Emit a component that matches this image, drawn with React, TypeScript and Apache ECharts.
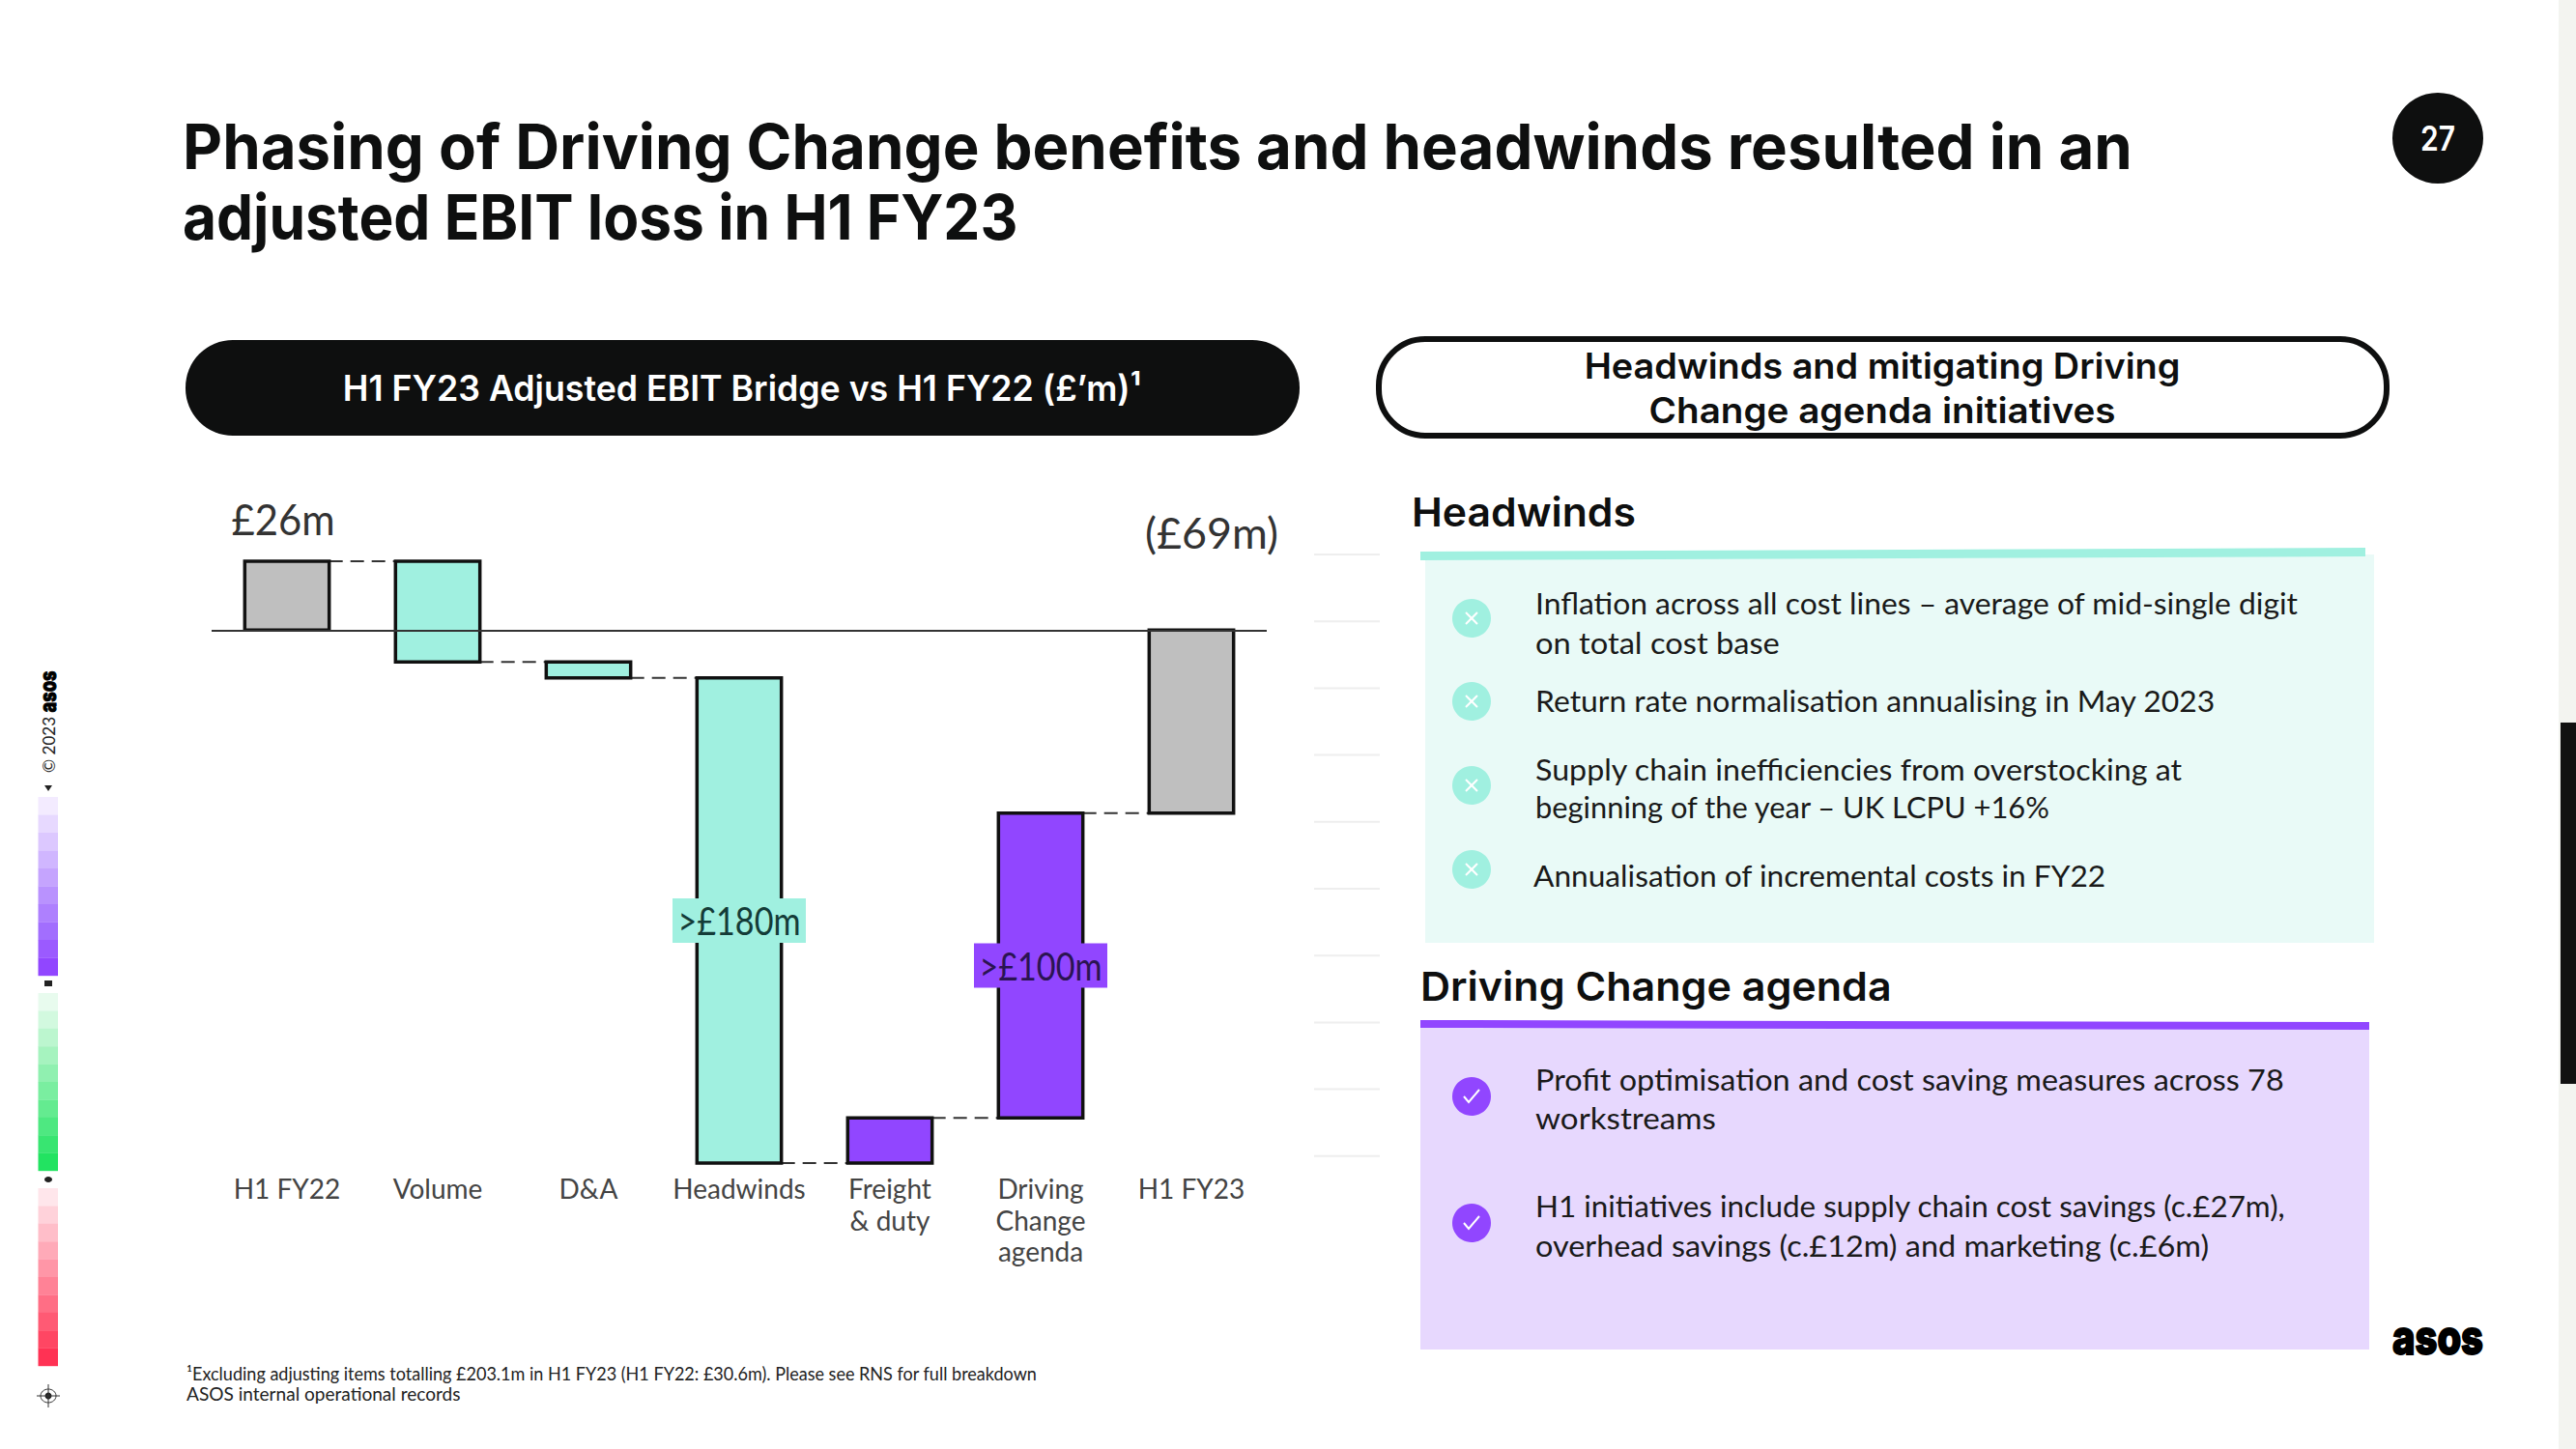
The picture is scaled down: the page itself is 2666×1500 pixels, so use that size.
import React, { useEffect, useRef } from "react";
import * as echarts from "echarts";

const categories = ["H1 FY22", "Volume", "D&A", "Headwinds", "Freight\n& duty", "Driving\nChange\nagenda", "H1 FY23"];
const barLow = [0, -12, -18, -201, -201, -184, -69];
const barHigh = [26, 26, -12, -18, -184, -69, 0];
const barKinds = ["total", "headwind", "headwind", "headwind", "agenda", "agenda", "total"];
const barLabels = ["£26m", "", "", ">£180m", "", ">£100m", "(£69m)"];
const connectorLevels = [26, -12, -18, -201, -184, -69];

const titleLines = ["Phasing of Driving Change benefits and headwinds resulted in an", "adjusted EBIT loss in H1 FY23"];
const headwindLines = [
  "Inflation across all cost lines – average of mid-single digit",
  "on total cost base",
  "Return rate normalisation annualising in May 2023",
  "Supply chain inefficiencies from overstocking at",
  "beginning of the year – UK LCPU +16%",
  "Annualisation of incremental costs in FY22",
];
const agendaLines = [
  "Profit optimisation and cost saving measures across 78",
  "workstreams",
  "H1 initiatives include supply chain cost savings (c.£27m),",
  "overhead savings (c.£12m) and marketing (c.£6m)",
];
const footnotes = [
  "¹Excluding adjusting items totalling £203.1m in H1 FY23 (H1 FY22: £30.6m). Please see RNS for full breakdown",
  "ASOS internal operational records",
];
const purpleSteps = ["#f3ebff", "#e7d9ff", "#dcc8ff", "#d0b6ff", "#c5a4fe", "#b992fe", "#ae80fe", "#a26efe", "#9b5aff", "#9146ff"];
const greenSteps = ["#e8fbee", "#d2f9df", "#bcf6cf", "#a6f3bf", "#90f0b0", "#7aeea0", "#64eb90", "#4ee881", "#38e571", "#22e361"];
const pinkSteps = ["#ffe6eb", "#ffd2da", "#ffbec9", "#ffaab8", "#ff96a7", "#ff8296", "#ff6e85", "#ff5a74", "#ff4663", "#ff3254"];

const INK = "#0e0f0f";
const TEAL = "#a0f0e0";
const PURPLE = "#9146ff";
const GREY = "#bfbfbf";
const kindColor: Record<string, string> = { total: GREY, headwind: TEAL, agenda: PURPLE };

const measure = document.createElement("canvas").getContext("2d")!;
function fitScale(text: string, width: number, size: number, family: string, weight: number) {
  measure.font = `${weight} ${size}px ${family}`;
  return width / measure.measureText(text).width;
}
function txt(text: string, x: number, y: number, width: number, size: number, family: string, weight: number, fill: string, align = "left", rotation = 0, extra: any = {}) {
  return {
    type: "text", x, y, scaleX: fitScale(text, width, size, family, weight), rotation, silent: true,
    style: { text, x: 0, y: 0, fontFamily: family, fontSize: size, fontWeight: weight, fill, align, verticalAlign: "middle", ...extra },
  };
}

function buildGraphics() {
  const g: any[] = [];
  const rect = (x: number, y: number, width: number, height: number, fill: string, r = 0) =>
    g.push({ type: "rect", silent: true, shape: { x, y, width, height, r }, style: { fill } });
  // page edge
  rect(2648, 0, 18, 1500, "#f3f4f0");
  rect(2650, 748, 16, 374, "#111111");
  // title
  g.push(txt(titleLines[0], 189, 151, 2018, 65, "Inter", 700, INK));
  g.push(txt(titleLines[1], 189, 224, 865, 65, "Inter", 700, INK));
  g.push({ type: "circle", silent: true, shape: { cx: 2523, cy: 143, r: 47 }, style: { fill: INK } });
  g.push(txt("27", 2523, 143, 36, 35, "Inter", 600, "#ffffff", "center"));
  // pills
  rect(192, 352, 1153, 99, INK, 49);
  g.push(txt("H1 FY23 Adjusted EBIT Bridge vs H1 FY22 (£’m)¹", 768, 402, 827, 37, "Inter", 600, "#ffffff", "center"));
  g.push({ type: "rect", silent: true, shape: { x: 1427, y: 351, width: 1043, height: 100, r: 48 }, style: { fill: "#ffffff", stroke: INK, lineWidth: 6 } });
  g.push(txt("Headwinds and mitigating Driving", 1948, 379, 617, 37, "Inter", 600, INK, "center"));
  g.push(txt("Change agenda initiatives", 1948, 424, 483, 37, "Inter", 600, INK, "center"));
  // faint ticks beside the chart
  for (let i = 0; i < 10; i++) {
    const y = 574 + i * 69.2;
    g.push({ type: "line", silent: true, shape: { x1: 1360, y1: y, x2: 1428, y2: y }, style: { stroke: "#eeeeee", lineWidth: 2 } });
  }
  // headwinds panel
  g.push(txt("Headwinds", 1461, 530, 232, 41, "Inter", 600, INK));
  rect(1475, 574, 982, 402, "#e9faf7");
  g.push({ type: "polygon", silent: true, shape: { points: [[1470, 571], [2448, 567], [2448, 576], [1470, 580]] }, style: { fill: TEAL } });
  [640, 726, 813, 900].forEach((cy) => {
    g.push({ type: "circle", silent: true, shape: { cx: 1523, cy, r: 20 }, style: { fill: TEAL } });
    g.push({ type: "line", silent: true, shape: { x1: 1517, y1: cy - 6, x2: 1529, y2: cy + 6 }, style: { stroke: "#ffffff", lineWidth: 2 } });
    g.push({ type: "line", silent: true, shape: { x1: 1529, y1: cy - 6, x2: 1517, y2: cy + 6 }, style: { stroke: "#ffffff", lineWidth: 2 } });
  });
  const hwY = [624, 665, 725, 796, 835, 906];
  const hwW = [790, 253, 704, 670, 534, 593];
  headwindLines.forEach((t, i) => g.push(txt(t, i === 5 ? 1587 : 1589, hwY[i], hwW[i], 31, "Lato", 400, "#1a1a1a")));
  // agenda panel
  g.push(txt("Driving Change agenda", 1470, 1021, 488, 41, "Inter", 600, INK));
  rect(1470, 1062, 982, 335, "#e7d8fe");
  g.push({ type: "polygon", silent: true, shape: { points: [[1470, 1056], [2452, 1058], [2452, 1066], [1470, 1064]] }, style: { fill: PURPLE } });
  [1135, 1266].forEach((cy) => {
    g.push({ type: "circle", silent: true, shape: { cx: 1523, cy, r: 20 }, style: { fill: PURPLE } });
    g.push({ type: "polyline", silent: true, shape: { points: [[1515, cy], [1520, cy + 6], [1531, cy - 7]] }, style: { stroke: "#ffffff", lineWidth: 2, fill: "none" } });
  });
  const agY = [1117, 1157, 1248, 1289];
  const agW = [775, 187, 777, 697];
  agendaLines.forEach((t, i) => g.push(txt(t, 1589, agY[i], agW[i], 31, "Lato", 400, "#1a1a1a")));
  // footnotes, logo
  g.push(txt(footnotes[0], 193, 1422, 881, 19, "Lato", 400, "#222222"));
  g.push(txt(footnotes[1], 193, 1443, 284, 19, "Lato", 400, "#222222"));
  g.push(txt("asos", 2523, 1384, 94, 50, "Inter", 800, "#000000", "center", 0, { stroke: "#000000", lineWidth: 2 }));
  // left strip
  g.push(txt("asos", 50, 716, 43, 23, "Inter", 800, "#000000", "center", Math.PI / 2, { stroke: "#000000", lineWidth: 1 }));
  g.push(txt("© 2023", 50, 771, 58, 18, "Lato", 400, "#222222", "center", Math.PI / 2));
  g.push({ type: "polygon", silent: true, shape: { points: [[46, 813], [54, 813], [50, 819]] }, style: { fill: "#222222" } });
  purpleSteps.forEach((c, i) => rect(39.5, 825 + i * 18.5, 20.5, 18.7, c));
  rect(46, 1015, 8, 6, "#222222");
  greenSteps.forEach((c, i) => rect(39.5, 1028 + i * 18.4, 20.5, 18.6, c));
  g.push({ type: "ellipse", silent: true, shape: { cx: 50, cy: 1221, rx: 4, ry: 3 }, style: { fill: "#222222" } });
  pinkSteps.forEach((c, i) => rect(39.5, 1230 + i * 18.4, 20.5, 18.6, c));
  g.push({ type: "ellipse", silent: true, shape: { cx: 50, cy: 1445, rx: 8, ry: 7 }, style: { fill: "none", stroke: "#333333", lineWidth: 1 } });
  g.push({ type: "circle", silent: true, shape: { cx: 50, cy: 1445, r: 3.5 }, style: { fill: "#222222" } });
  g.push({ type: "line", silent: true, shape: { x1: 38, y1: 1445, x2: 62, y2: 1445 }, style: { stroke: "#333333", lineWidth: 1 } });
  g.push({ type: "line", silent: true, shape: { x1: 50, y1: 1433, x2: 50, y2: 1457 }, style: { stroke: "#333333", lineWidth: 1 } });
  return g;
}

function labelText(text: string, x: number, y: number, width: number, size: number, fill: string) {
  return {
    type: "text", x, y, scaleX: fitScale(text, width, size, "Lato", 400),
    style: { text, x: 0, y: 0, fontFamily: "Lato", fontSize: size, fontWeight: 400, align: "center", verticalAlign: "middle", fill },
  };
}

function labelChildren(api: any, i: number, low: number, high: number) {
  const label = barLabels[i];
  if (!label) return [];
  const cx = api.coord([i, 0])[0];
  if (label.startsWith(">")) {
    const cy = (api.coord([i, high])[1] + api.coord([i, low])[1]) / 2;
    return [
      { type: "rect", shape: { x: cx - 69, y: cy - 23, width: 138, height: 46 }, style: { fill: kindColor[barKinds[i]] } },
      labelText(label, cx, cy, 127, 40, barKinds[i] === "agenda" ? "#2b1452" : "#143c38"),
    ];
  }
  const top = api.coord([i, high])[1];
  return i === categories.length - 1
    ? [labelText(label, cx + 21, top - 101, 138, 45, "#333333")]
    : [labelText(label, cx - 4, top - 45, 107, 45, "#333333")];
}

export default function App() {
  const ref = useRef<HTMLDivElement>(null);
  useEffect(() => {
    document.body.style.margin = "0";
    document.body.style.background = "#ffffff";
    const chart = echarts.init(ref.current!, undefined, { renderer: "svg" });
    chart.setOption({
      animation: false,
      backgroundColor: "#ffffff",
      grid: { left: 219, top: 581, width: 1092, height: 623 },
      xAxis: {
        type: "category", data: categories,
        axisLine: { show: false, onZero: false }, axisTick: { show: false },
        axisLabel: { interval: 0, margin: 10, fontFamily: "Lato", fontSize: 28, lineHeight: 32.5, color: "#444444", verticalAlign: "top" },
      },
      yAxis: { type: "value", min: -201, max: 26, show: false, splitLine: { show: false } },
      series: [
        {
          type: "line", data: [], z: 1, silent: true, symbol: "none",
          markLine: { silent: true, symbol: "none", label: { show: false }, lineStyle: { color: "#333333", width: 2, type: "solid" }, data: [{ yAxis: 0 }] },
        },
        {
          type: "custom", z: 3, silent: true, clip: false,
          data: connectorLevels.map((level, i) => [i, level]),
          encode: { x: 0, y: 1 },
          renderItem: (_: any, api: any) => {
            const i = api.value(0);
            const half = (api.size([1, 0])[0] * 0.56) / 2;
            const a = api.coord([i, api.value(1)]);
            const b = api.coord([i + 1, api.value(1)]);
            return {
              type: "line",
              shape: { x1: a[0] + half, y1: a[1], x2: b[0] - half, y2: b[1] },
              style: { stroke: "#333333", lineWidth: 2, lineDash: [14, 8], fill: null },
            };
          },
        },
        {
          type: "custom", z: 4, silent: true, clip: false,
          data: categories.map((_, i) => [i, barLow[i], barHigh[i]]),
          encode: { x: 0, y: [1, 2] },
          renderItem: (_: any, api: any) => {
            const i = api.value(0);
            const low = api.value(1);
            const high = api.value(2);
            const width = api.size([1, 0])[0] * 0.56;
            const top = api.coord([i, high]);
            const bottom = api.coord([i, low]);
            return {
              type: "group",
              children: [
                {
                  type: "rect",
                  shape: { x: top[0] - width / 2, y: top[1], width, height: bottom[1] - top[1] },
                  style: { fill: kindColor[barKinds[i]], stroke: "#111111", lineWidth: 3.5 },
                },
                ...labelChildren(api, i, low, high),
              ],
            };
          },
        },
      ],
      graphic: { elements: buildGraphics() },
    });
    return () => chart.dispose();
  }, []);
  return <div ref={ref} style={{ position: "absolute", left: 0, top: 0, width: 2666, height: 1500 }} />;
}
